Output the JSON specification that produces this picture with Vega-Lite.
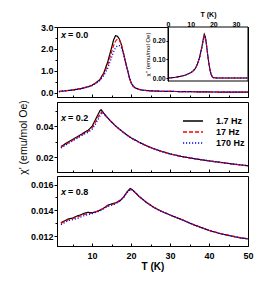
{
 "$schema": "https://vega.github.io/schema/vega-lite/v6.json",
 "background": "white",
 "padding": {"left": 17, "top": 10, "right": 5, "bottom": 5},
 "spacing": 0,
 "config": {
  "font": "Liberation Sans",
  "view": {"stroke": "black", "strokeWidth": 1},
  "axis": {"grid": false, "domainColor": "black", "tickColor": "black", "labelColor": "black", "titleColor": "black", "labelFont": "Liberation Sans", "labelFontWeight": "bold", "labelFontSize": 9, "titleFont": "Liberation Sans", "domainWidth": 1, "tickWidth": 1, "labelOverlap": false, "labelBound": false, "labelFlush": false, "labelSeparation": -50}
 },
 "datasets": {
  "x00": [
   {"T":1.5,"chi":0.05,"f":"1.7 Hz"},{"T":3,"chi":0.08,"f":"1.7 Hz"},{"T":5,"chi":0.12,"f":"1.7 Hz"},{"T":7,"chi":0.18,"f":"1.7 Hz"},{"T":9,"chi":0.27,"f":"1.7 Hz"},{"T":10,"chi":0.34,"f":"1.7 Hz"},{"T":11,"chi":0.45,"f":"1.7 Hz"},{"T":12,"chi":0.6,"f":"1.7 Hz"},{"T":13,"chi":0.9,"f":"1.7 Hz"},{"T":14,"chi":1.4,"f":"1.7 Hz"},{"T":15,"chi":2.05,"f":"1.7 Hz"},{"T":15.5,"chi":2.4,"f":"1.7 Hz"},{"T":16,"chi":2.6,"f":"1.7 Hz"},{"T":16.5,"chi":2.58,"f":"1.7 Hz"},{"T":17,"chi":2.45,"f":"1.7 Hz"},{"T":17.5,"chi":2.2,"f":"1.7 Hz"},{"T":18,"chi":1.85,"f":"1.7 Hz"},{"T":18.5,"chi":1.45,"f":"1.7 Hz"},{"T":19,"chi":1.1,"f":"1.7 Hz"},{"T":19.5,"chi":0.72,"f":"1.7 Hz"},{"T":20,"chi":0.45,"f":"1.7 Hz"},{"T":20.5,"chi":0.3,"f":"1.7 Hz"},{"T":21,"chi":0.22,"f":"1.7 Hz"},{"T":22,"chi":0.15,"f":"1.7 Hz"},{"T":23,"chi":0.11,"f":"1.7 Hz"},{"T":25,"chi":0.08,"f":"1.7 Hz"},{"T":28,"chi":0.06,"f":"1.7 Hz"},{"T":32,"chi":0.05,"f":"1.7 Hz"},{"T":36,"chi":0.04,"f":"1.7 Hz"},{"T":40,"chi":0.03,"f":"1.7 Hz"},{"T":45,"chi":0.025,"f":"1.7 Hz"},{"T":50,"chi":0.02,"f":"1.7 Hz"},
   {"T":1.5,"chi":0.05,"f":"17 Hz"},{"T":3,"chi":0.08,"f":"17 Hz"},{"T":5,"chi":0.12,"f":"17 Hz"},{"T":7,"chi":0.18,"f":"17 Hz"},{"T":9,"chi":0.27,"f":"17 Hz"},{"T":10,"chi":0.33,"f":"17 Hz"},{"T":11,"chi":0.44,"f":"17 Hz"},{"T":12,"chi":0.58,"f":"17 Hz"},{"T":13,"chi":0.85,"f":"17 Hz"},{"T":14,"chi":1.25,"f":"17 Hz"},{"T":15,"chi":1.85,"f":"17 Hz"},{"T":15.5,"chi":2.15,"f":"17 Hz"},{"T":16,"chi":2.35,"f":"17 Hz"},{"T":16.5,"chi":2.45,"f":"17 Hz"},{"T":17,"chi":2.4,"f":"17 Hz"},{"T":17.5,"chi":2.2,"f":"17 Hz"},{"T":18,"chi":1.85,"f":"17 Hz"},{"T":18.5,"chi":1.45,"f":"17 Hz"},{"T":19,"chi":1.1,"f":"17 Hz"},{"T":19.5,"chi":0.72,"f":"17 Hz"},{"T":20,"chi":0.45,"f":"17 Hz"},{"T":20.5,"chi":0.3,"f":"17 Hz"},{"T":21,"chi":0.22,"f":"17 Hz"},{"T":22,"chi":0.15,"f":"17 Hz"},{"T":23,"chi":0.11,"f":"17 Hz"},{"T":25,"chi":0.08,"f":"17 Hz"},{"T":28,"chi":0.06,"f":"17 Hz"},{"T":32,"chi":0.05,"f":"17 Hz"},{"T":36,"chi":0.04,"f":"17 Hz"},{"T":40,"chi":0.03,"f":"17 Hz"},{"T":45,"chi":0.025,"f":"17 Hz"},{"T":50,"chi":0.02,"f":"17 Hz"},
   {"T":1.5,"chi":0.05,"f":"170  Hz"},{"T":3,"chi":0.08,"f":"170  Hz"},{"T":5,"chi":0.11,"f":"170  Hz"},{"T":7,"chi":0.17,"f":"170  Hz"},{"T":9,"chi":0.26,"f":"170  Hz"},{"T":10,"chi":0.32,"f":"170  Hz"},{"T":11,"chi":0.42,"f":"170  Hz"},{"T":12,"chi":0.55,"f":"170  Hz"},{"T":13,"chi":0.78,"f":"170  Hz"},{"T":14,"chi":1.1,"f":"170  Hz"},{"T":15,"chi":1.6,"f":"170  Hz"},{"T":15.5,"chi":1.85,"f":"170  Hz"},{"T":16,"chi":2.05,"f":"170  Hz"},{"T":16.5,"chi":2.15,"f":"170  Hz"},{"T":17,"chi":2.15,"f":"170  Hz"},{"T":17.5,"chi":2.05,"f":"170  Hz"},{"T":18,"chi":1.8,"f":"170  Hz"},{"T":18.5,"chi":1.45,"f":"170  Hz"},{"T":19,"chi":1.1,"f":"170  Hz"},{"T":19.5,"chi":0.75,"f":"170  Hz"},{"T":20,"chi":0.48,"f":"170  Hz"},{"T":20.5,"chi":0.32,"f":"170  Hz"},{"T":21,"chi":0.23,"f":"170  Hz"},{"T":22,"chi":0.15,"f":"170  Hz"},{"T":23,"chi":0.11,"f":"170  Hz"},{"T":25,"chi":0.08,"f":"170  Hz"},{"T":28,"chi":0.06,"f":"170  Hz"},{"T":32,"chi":0.05,"f":"170  Hz"},{"T":36,"chi":0.04,"f":"170  Hz"},{"T":40,"chi":0.03,"f":"170  Hz"},{"T":45,"chi":0.025,"f":"170  Hz"},{"T":50,"chi":0.02,"f":"170  Hz"}
  ],
  "x02": [
   {"T":2,"chi":0.027,"f":"1.7 Hz"},{"T":3,"chi":0.0285,"f":"1.7 Hz"},{"T":4,"chi":0.03,"f":"1.7 Hz"},{"T":5,"chi":0.0315,"f":"1.7 Hz"},{"T":6,"chi":0.033,"f":"1.7 Hz"},{"T":7,"chi":0.0345,"f":"1.7 Hz"},{"T":8,"chi":0.036,"f":"1.7 Hz"},{"T":9,"chi":0.0375,"f":"1.7 Hz"},{"T":10,"chi":0.04,"f":"1.7 Hz"},{"T":10.5,"chi":0.0425,"f":"1.7 Hz"},{"T":11,"chi":0.045,"f":"1.7 Hz"},{"T":11.5,"chi":0.0475,"f":"1.7 Hz"},{"T":12,"chi":0.05,"f":"1.7 Hz"},{"T":12.3,"chi":0.0508,"f":"1.7 Hz"},{"T":13,"chi":0.0485,"f":"1.7 Hz"},{"T":14,"chi":0.0455,"f":"1.7 Hz"},{"T":15,"chi":0.0428,"f":"1.7 Hz"},{"T":16,"chi":0.0403,"f":"1.7 Hz"},{"T":17,"chi":0.0382,"f":"1.7 Hz"},{"T":18,"chi":0.0362,"f":"1.7 Hz"},{"T":19,"chi":0.0343,"f":"1.7 Hz"},{"T":20,"chi":0.0326,"f":"1.7 Hz"},{"T":22,"chi":0.0298,"f":"1.7 Hz"},{"T":24,"chi":0.0274,"f":"1.7 Hz"},{"T":26,"chi":0.0254,"f":"1.7 Hz"},{"T":28,"chi":0.0237,"f":"1.7 Hz"},{"T":30,"chi":0.0222,"f":"1.7 Hz"},{"T":33,"chi":0.0205,"f":"1.7 Hz"},{"T":36,"chi":0.0192,"f":"1.7 Hz"},{"T":40,"chi":0.0177,"f":"1.7 Hz"},{"T":43,"chi":0.0167,"f":"1.7 Hz"},{"T":46,"chi":0.0157,"f":"1.7 Hz"},{"T":50,"chi":0.0145,"f":"1.7 Hz"},
   {"T":2,"chi":0.0265,"f":"17 Hz"},{"T":4,"chi":0.0295,"f":"17 Hz"},{"T":6,"chi":0.0325,"f":"17 Hz"},{"T":8,"chi":0.0355,"f":"17 Hz"},{"T":9,"chi":0.0368,"f":"17 Hz"},{"T":10,"chi":0.039,"f":"17 Hz"},{"T":11,"chi":0.0435,"f":"17 Hz"},{"T":12,"chi":0.048,"f":"17 Hz"},{"T":12.5,"chi":0.0495,"f":"17 Hz"},{"T":13,"chi":0.048,"f":"17 Hz"},{"T":14,"chi":0.0453,"f":"17 Hz"},{"T":15,"chi":0.0427,"f":"17 Hz"},{"T":16,"chi":0.0402,"f":"17 Hz"},{"T":17,"chi":0.0381,"f":"17 Hz"},{"T":18,"chi":0.0361,"f":"17 Hz"},{"T":19,"chi":0.0342,"f":"17 Hz"},{"T":20,"chi":0.0325,"f":"17 Hz"},{"T":22,"chi":0.0297,"f":"17 Hz"},{"T":24,"chi":0.0273,"f":"17 Hz"},{"T":26,"chi":0.0253,"f":"17 Hz"},{"T":28,"chi":0.0236,"f":"17 Hz"},{"T":30,"chi":0.0221,"f":"17 Hz"},{"T":33,"chi":0.0204,"f":"17 Hz"},{"T":36,"chi":0.0191,"f":"17 Hz"},{"T":40,"chi":0.0176,"f":"17 Hz"},{"T":43,"chi":0.0166,"f":"17 Hz"},{"T":46,"chi":0.0156,"f":"17 Hz"},{"T":50,"chi":0.0145,"f":"17 Hz"},
   {"T":2,"chi":0.026,"f":"170  Hz"},{"T":4,"chi":0.029,"f":"170  Hz"},{"T":6,"chi":0.032,"f":"170  Hz"},{"T":8,"chi":0.035,"f":"170  Hz"},{"T":9,"chi":0.0362,"f":"170  Hz"},{"T":10,"chi":0.038,"f":"170  Hz"},{"T":11,"chi":0.042,"f":"170  Hz"},{"T":12,"chi":0.0465,"f":"170  Hz"},{"T":12.5,"chi":0.049,"f":"170  Hz"},{"T":13,"chi":0.0482,"f":"170  Hz"},{"T":14,"chi":0.0454,"f":"170  Hz"},{"T":15,"chi":0.0428,"f":"170  Hz"},{"T":16,"chi":0.0403,"f":"170  Hz"},{"T":17,"chi":0.0382,"f":"170  Hz"},{"T":18,"chi":0.0362,"f":"170  Hz"},{"T":19,"chi":0.0343,"f":"170  Hz"},{"T":20,"chi":0.0326,"f":"170  Hz"},{"T":22,"chi":0.0298,"f":"170  Hz"},{"T":24,"chi":0.0274,"f":"170  Hz"},{"T":26,"chi":0.0254,"f":"170  Hz"},{"T":28,"chi":0.0237,"f":"170  Hz"},{"T":30,"chi":0.0222,"f":"170  Hz"},{"T":33,"chi":0.0205,"f":"170  Hz"},{"T":36,"chi":0.0192,"f":"170  Hz"},{"T":40,"chi":0.0177,"f":"170  Hz"},{"T":43,"chi":0.0167,"f":"170  Hz"},{"T":46,"chi":0.0157,"f":"170  Hz"},{"T":50,"chi":0.0146,"f":"170  Hz"}
  ],
  "x08": [
   {"T":2,"chi":0.01305,"f":"1.7 Hz"},{"T":3,"chi":0.0132,"f":"1.7 Hz"},{"T":4,"chi":0.01335,"f":"1.7 Hz"},{"T":5,"chi":0.0134,"f":"1.7 Hz"},{"T":6,"chi":0.01355,"f":"1.7 Hz"},{"T":7,"chi":0.01365,"f":"1.7 Hz"},{"T":8,"chi":0.01378,"f":"1.7 Hz"},{"T":9,"chi":0.01385,"f":"1.7 Hz"},{"T":10,"chi":0.01382,"f":"1.7 Hz"},{"T":11,"chi":0.0139,"f":"1.7 Hz"},{"T":12,"chi":0.01402,"f":"1.7 Hz"},{"T":13,"chi":0.01418,"f":"1.7 Hz"},{"T":14,"chi":0.0144,"f":"1.7 Hz"},{"T":15,"chi":0.0145,"f":"1.7 Hz"},{"T":16,"chi":0.01458,"f":"1.7 Hz"},{"T":17,"chi":0.0147,"f":"1.7 Hz"},{"T":18,"chi":0.015,"f":"1.7 Hz"},{"T":19,"chi":0.01545,"f":"1.7 Hz"},{"T":19.8,"chi":0.0157,"f":"1.7 Hz"},{"T":20.5,"chi":0.01555,"f":"1.7 Hz"},{"T":22,"chi":0.0151,"f":"1.7 Hz"},{"T":24,"chi":0.0146,"f":"1.7 Hz"},{"T":26,"chi":0.0142,"f":"1.7 Hz"},{"T":28,"chi":0.0139,"f":"1.7 Hz"},{"T":30,"chi":0.01365,"f":"1.7 Hz"},{"T":33,"chi":0.01328,"f":"1.7 Hz"},{"T":36,"chi":0.0129,"f":"1.7 Hz"},{"T":40,"chi":0.01245,"f":"1.7 Hz"},{"T":43,"chi":0.0122,"f":"1.7 Hz"},{"T":46,"chi":0.012,"f":"1.7 Hz"},{"T":48,"chi":0.01188,"f":"1.7 Hz"},{"T":50,"chi":0.0118,"f":"1.7 Hz"},
   {"T":2,"chi":0.013,"f":"17 Hz"},{"T":4,"chi":0.0133,"f":"17 Hz"},{"T":6,"chi":0.01345,"f":"17 Hz"},{"T":8,"chi":0.0137,"f":"17 Hz"},{"T":10,"chi":0.0138,"f":"17 Hz"},{"T":12,"chi":0.014,"f":"17 Hz"},{"T":14,"chi":0.01435,"f":"17 Hz"},{"T":16,"chi":0.01455,"f":"17 Hz"},{"T":18,"chi":0.015,"f":"17 Hz"},{"T":19,"chi":0.0154,"f":"17 Hz"},{"T":20,"chi":0.01565,"f":"17 Hz"},{"T":21,"chi":0.0154,"f":"17 Hz"},{"T":22,"chi":0.0151,"f":"17 Hz"},{"T":24,"chi":0.01462,"f":"17 Hz"},{"T":26,"chi":0.01422,"f":"17 Hz"},{"T":28,"chi":0.0139,"f":"17 Hz"},{"T":30,"chi":0.01365,"f":"17 Hz"},{"T":33,"chi":0.0133,"f":"17 Hz"},{"T":36,"chi":0.0129,"f":"17 Hz"},{"T":40,"chi":0.01247,"f":"17 Hz"},{"T":43,"chi":0.0122,"f":"17 Hz"},{"T":46,"chi":0.01202,"f":"17 Hz"},{"T":48,"chi":0.0119,"f":"17 Hz"},{"T":50,"chi":0.01182,"f":"17 Hz"},
   {"T":2,"chi":0.0129,"f":"170  Hz"},{"T":4,"chi":0.01322,"f":"170  Hz"},{"T":6,"chi":0.01335,"f":"170  Hz"},{"T":8,"chi":0.0136,"f":"170  Hz"},{"T":10,"chi":0.01375,"f":"170  Hz"},{"T":12,"chi":0.01395,"f":"170  Hz"},{"T":14,"chi":0.0143,"f":"170  Hz"},{"T":16,"chi":0.0145,"f":"170  Hz"},{"T":18,"chi":0.01495,"f":"170  Hz"},{"T":19,"chi":0.0154,"f":"170  Hz"},{"T":20,"chi":0.01565,"f":"170  Hz"},{"T":21,"chi":0.0154,"f":"170  Hz"},{"T":22,"chi":0.0151,"f":"170  Hz"},{"T":24,"chi":0.0146,"f":"170  Hz"},{"T":26,"chi":0.0142,"f":"170  Hz"},{"T":28,"chi":0.0139,"f":"170  Hz"},{"T":30,"chi":0.01365,"f":"170  Hz"},{"T":33,"chi":0.0133,"f":"170  Hz"},{"T":36,"chi":0.0129,"f":"170  Hz"},{"T":40,"chi":0.01246,"f":"170  Hz"},{"T":43,"chi":0.0122,"f":"170  Hz"},{"T":46,"chi":0.012,"f":"170  Hz"},{"T":48,"chi":0.01188,"f":"170  Hz"},{"T":50,"chi":0.0118,"f":"170  Hz"}
  ],
  "inset": [
   {"T":0,"chi":0.0,"f":"1.7 Hz"},{"T":3,"chi":0.003,"f":"1.7 Hz"},{"T":6,"chi":0.01,"f":"1.7 Hz"},{"T":8,"chi":0.017,"f":"1.7 Hz"},{"T":10,"chi":0.028,"f":"1.7 Hz"},{"T":11,"chi":0.037,"f":"1.7 Hz"},{"T":12,"chi":0.05,"f":"1.7 Hz"},{"T":13,"chi":0.075,"f":"1.7 Hz"},{"T":14,"chi":0.115,"f":"1.7 Hz"},{"T":15,"chi":0.17,"f":"1.7 Hz"},{"T":15.5,"chi":0.205,"f":"1.7 Hz"},{"T":16,"chi":0.235,"f":"1.7 Hz"},{"T":16.5,"chi":0.22,"f":"1.7 Hz"},{"T":17,"chi":0.175,"f":"1.7 Hz"},{"T":17.5,"chi":0.125,"f":"1.7 Hz"},{"T":18,"chi":0.08,"f":"1.7 Hz"},{"T":18.5,"chi":0.045,"f":"1.7 Hz"},{"T":19,"chi":0.02,"f":"1.7 Hz"},{"T":19.5,"chi":0.007,"f":"1.7 Hz"},{"T":20,"chi":0.002,"f":"1.7 Hz"},{"T":22,"chi":0.0,"f":"1.7 Hz"},{"T":26,"chi":0.0,"f":"1.7 Hz"},{"T":30,"chi":0.0,"f":"1.7 Hz"},{"T":35,"chi":0.0,"f":"1.7 Hz"},
   {"T":0,"chi":0.0,"f":"17 Hz"},{"T":3,"chi":0.003,"f":"17 Hz"},{"T":6,"chi":0.01,"f":"17 Hz"},{"T":8,"chi":0.017,"f":"17 Hz"},{"T":10,"chi":0.028,"f":"17 Hz"},{"T":11,"chi":0.037,"f":"17 Hz"},{"T":12,"chi":0.05,"f":"17 Hz"},{"T":13,"chi":0.074,"f":"17 Hz"},{"T":14,"chi":0.112,"f":"17 Hz"},{"T":15,"chi":0.165,"f":"17 Hz"},{"T":15.5,"chi":0.198,"f":"17 Hz"},{"T":16,"chi":0.225,"f":"17 Hz"},{"T":16.5,"chi":0.215,"f":"17 Hz"},{"T":17,"chi":0.175,"f":"17 Hz"},{"T":17.5,"chi":0.125,"f":"17 Hz"},{"T":18,"chi":0.08,"f":"17 Hz"},{"T":18.5,"chi":0.045,"f":"17 Hz"},{"T":19,"chi":0.02,"f":"17 Hz"},{"T":19.5,"chi":0.007,"f":"17 Hz"},{"T":20,"chi":0.002,"f":"17 Hz"},{"T":22,"chi":0.0,"f":"17 Hz"},{"T":26,"chi":0.0,"f":"17 Hz"},{"T":30,"chi":0.0,"f":"17 Hz"},{"T":35,"chi":0.0,"f":"17 Hz"},
   {"T":0,"chi":0.0,"f":"170  Hz"},{"T":3,"chi":0.003,"f":"170  Hz"},{"T":6,"chi":0.01,"f":"170  Hz"},{"T":8,"chi":0.017,"f":"170  Hz"},{"T":10,"chi":0.028,"f":"170  Hz"},{"T":11,"chi":0.037,"f":"170  Hz"},{"T":12,"chi":0.05,"f":"170  Hz"},{"T":13,"chi":0.074,"f":"170  Hz"},{"T":14,"chi":0.11,"f":"170  Hz"},{"T":15,"chi":0.162,"f":"170  Hz"},{"T":15.5,"chi":0.195,"f":"170  Hz"},{"T":16,"chi":0.22,"f":"170  Hz"},{"T":16.5,"chi":0.215,"f":"170  Hz"},{"T":17,"chi":0.178,"f":"170  Hz"},{"T":17.5,"chi":0.128,"f":"170  Hz"},{"T":18,"chi":0.082,"f":"170  Hz"},{"T":18.5,"chi":0.046,"f":"170  Hz"},{"T":19,"chi":0.021,"f":"170  Hz"},{"T":19.5,"chi":0.008,"f":"170  Hz"},{"T":20,"chi":0.002,"f":"170  Hz"},{"T":22,"chi":0.0,"f":"170  Hz"},{"T":26,"chi":0.0,"f":"170  Hz"},{"T":30,"chi":0.0,"f":"170  Hz"},{"T":35,"chi":0.0,"f":"170  Hz"}
  ]
 },
 "resolve": {"scale": {"x": "independent", "y": "independent", "color": "independent", "strokeDash": "independent"}},
 "vconcat": [
  {
   "width": 191, "height": 70,
   "layer": [
    {"layer": [
     {"data": {"name": "x00"}, "mark": {"type": "line", "strokeWidth": 1.2},
      "encoding": {
       "x": {"field": "T", "type": "quantitative", "scale": {"domain": [1, 50], "nice": false}, "axis": {"orient": "bottom", "values": [10,20,30,40,50], "labels": false, "title": null, "tickSize": -3}},
       "y": {"field": "chi", "type": "quantitative", "scale": {"domain": [-0.2, 3.0], "nice": false, "zero": false}, "axis": {"orient": "left", "values": [0,3], "format": ".1f", "title": null, "labelOverlap": false, "labelPadding": 1, "tickSize": 3}},
       "color": {"field": "f", "type": "nominal", "scale": {"domain": ["1.7 Hz", "17 Hz", "170  Hz"], "range": ["#000000", "#ff0000", "#0000ff"]}, "legend": null},
       "strokeDash": {"field": "f", "type": "nominal", "scale": {"domain": ["1.7 Hz", "17 Hz", "170  Hz"], "range": [[1, 0], [4, 2], [1.2, 1.8]]}, "legend": null}
      }},
     {"data": {"values": [{"a": 1}]}, "mark": {"type": "text", "text": "x", "fontStyle": "italic", "fontWeight": "bold", "fontSize": 9, "align": "left", "baseline": "middle"},
      "encoding": {"x": {"datum": 2, "type": "quantitative"}, "y": {"datum": 2.64, "type": "quantitative"}}},
     {"data": {"values": [{"a": 1}]}, "mark": {"type": "text", "text": "= 0.0", "fontWeight": "bold", "fontSize": 9, "align": "left", "baseline": "middle", "dx": 7},
      "encoding": {"x": {"datum": 2, "type": "quantitative"}, "y": {"datum": 2.64, "type": "quantitative"}}}
    ]},
    {"data": {"name": "x00"}, "mark": {"type": "line", "opacity": 0},
     "encoding": {
      "x": {"field": "T", "type": "quantitative", "scale": {"domain": [1, 50], "nice": false}, "axis": {"orient": "bottom", "values": [5,15,25,35,45], "labels": false, "domain": false, "title": null, "tickSize": -2}},
      "y": {"field": "chi", "type": "quantitative", "scale": {"domain": [-0.2, 3.0], "nice": false, "zero": false}, "axis": {"orient": "left", "values": [0.5,1.5,2.5], "labels": false, "domain": false, "title": null, "tickSize": 2}}
     }},
    {"data": {"name": "x00"}, "mark": {"type": "line", "opacity": 0},
     "encoding": {
      "x": {"field": "T", "type": "quantitative", "scale": {"domain": [1, 50], "nice": false}, "axis": null},
      "y": {"field": "chi", "type": "quantitative", "scale": {"domain": [-0.2, 3.0], "nice": false, "zero": false}, "axis": {"orient": "left", "values": [1,2], "format": ".1f", "domain": false, "title": null, "labelOverlap": false, "labelPadding": 1, "tickSize": 3}}
     }},
    {"layer": [
     {"data": {"values": [{"a": 1}]}, "mark": {"type": "rect", "fill": "white", "stroke": "black", "strokeWidth": 1},
      "encoding": {
       "x": {"datum": 0, "type": "quantitative", "scale": {"domain": [0, 35.3], "range": [111, 191], "nice": false}, "axis": {"orient": "top", "values": [0,10,20,30], "labelOverlap": false, "labelFontSize": 7, "title": "T (K)", "titleFontSize": 7, "titleFontWeight": "bold", "titlePadding": 3, "labelPadding": 1.5, "tickSize": -2}},
       "x2": {"datum": 35.3},
       "y": {"datum": -0.016, "type": "quantitative", "scale": {"domain": [-0.016, 0.273], "range": [54, 0], "nice": false, "zero": false}, "axis": {"orient": "left", "offset": -111, "values": [0, 0.2], "format": ".2f", "labelOverlap": false, "labelFontSize": 6.5, "title": "χ'' (emu/mol Oe)", "titleFontSize": 6, "titleFontWeight": "normal", "titlePadding": 2, "labelPadding": 1, "tickSize": 2, "zindex": 1}},
       "y2": {"datum": 0.273}
      }},
     {"data": {"name": "inset"}, "mark": {"type": "line", "strokeWidth": 1.1},
      "encoding": {
       "x": {"field": "T", "type": "quantitative"},
       "y": {"field": "chi", "type": "quantitative"},
       "color": {"field": "f", "type": "nominal", "legend": null},
       "strokeDash": {"field": "f", "type": "nominal", "legend": null}
      }}
    ]},
    {"data": {"name": "inset"}, "mark": {"type": "line", "opacity": 0},
     "encoding": {
      "x": {"field": "T", "type": "quantitative", "scale": {"domain": [0, 35.3], "range": [111, 191], "nice": false}, "axis": null},
      "y": {"field": "chi", "type": "quantitative", "scale": {"domain": [-0.016, 0.273], "range": [54, 0], "nice": false, "zero": false}, "axis": {"orient": "left", "offset": -111, "values": [0.1], "format": ".2f", "labelOverlap": false, "labelFontSize": 6.5, "domain": false, "title": null, "labelPadding": 1, "tickSize": 2, "zindex": 1}}
     }}
   ],
   "resolve": {"scale": {"x": "independent", "y": "independent"}}
  },
  {
   "width": 191, "height": 70,
   "layer": [
    {"layer": [
     {"data": {"name": "x02"}, "mark": {"type": "line", "strokeWidth": 1.2},
      "encoding": {
       "x": {"field": "T", "type": "quantitative", "scale": {"domain": [1, 50], "nice": false}, "axis": {"orient": "bottom", "values": [10,20,30,40,50], "labels": false, "title": null, "tickSize": -3}},
       "y": {"field": "chi", "type": "quantitative", "scale": {"domain": [0.0105, 0.0557], "nice": false, "zero": false}, "axis": {"orient": "left", "values": [0.02,0.04], "format": ".2f", "labelOverlap": false, "title": "χ' (emu/mol Oe)", "titleFontSize": 10.5, "titleFontWeight": "normal", "titleX": -29, "labelPadding": 1, "tickSize": 3}},
       "color": {"field": "f", "type": "nominal", "scale": {"domain": ["1.7 Hz", "17 Hz", "170  Hz"], "range": ["#000000", "#ff0000", "#0000ff"]},
        "legend": {"orient": "none", "legendX": 130, "legendY": 13, "title": null, "symbolType": "M-2,0H2", "symbolSize": 100, "symbolStrokeWidth": 1.5, "labelFontSize": 9, "labelFontWeight": "bold", "labelFont": "Liberation Sans", "labelColor": "black", "rowPadding": -4, "labelOffset": 17}},
       "strokeDash": {"field": "f", "type": "nominal", "scale": {"domain": ["1.7 Hz", "17 Hz", "170  Hz"], "range": [[1, 0], [4, 2], [1.2, 1.8]]},
        "legend": {"orient": "none", "legendX": 130, "legendY": 13, "title": null, "symbolType": "M-2,0H2", "symbolSize": 100, "symbolStrokeWidth": 1.5, "labelFontSize": 9, "labelFontWeight": "bold", "labelFont": "Liberation Sans", "labelColor": "black", "rowPadding": -4, "labelOffset": 17}}
      }},
     {"data": {"values": [{"a": 1}]}, "mark": {"type": "text", "text": "x", "fontStyle": "italic", "fontWeight": "bold", "fontSize": 9, "align": "left", "baseline": "middle"},
      "encoding": {"x": {"datum": 2, "type": "quantitative"}, "y": {"datum": 0.0452, "type": "quantitative"}}},
     {"data": {"values": [{"a": 1}]}, "mark": {"type": "text", "text": "= 0.2", "fontWeight": "bold", "fontSize": 9, "align": "left", "baseline": "middle", "dx": 7},
      "encoding": {"x": {"datum": 2, "type": "quantitative"}, "y": {"datum": 0.0452, "type": "quantitative"}}}
    ]},
    {"data": {"name": "x02"}, "mark": {"type": "line", "opacity": 0},
     "encoding": {
      "x": {"field": "T", "type": "quantitative", "scale": {"domain": [1, 50], "nice": false}, "axis": {"orient": "bottom", "values": [5,15,25,35,45], "labels": false, "domain": false, "title": null, "tickSize": -2}},
      "y": {"field": "chi", "type": "quantitative", "scale": {"domain": [0.0105, 0.0557], "nice": false, "zero": false}, "axis": {"orient": "left", "values": [0.03,0.05], "labels": false, "domain": false, "title": null, "tickSize": 2}}
     }}
   ],
   "resolve": {"scale": {"x": "independent", "y": "independent"}}
  },
  {
   "width": 191, "height": 70,
   "layer": [
    {"layer": [
     {"data": {"name": "x08"}, "mark": {"type": "line", "strokeWidth": 1.2},
      "encoding": {
       "x": {"field": "T", "type": "quantitative", "scale": {"domain": [1, 50], "nice": false}, "axis": {"orient": "bottom", "values": [10,20,30,40,50], "format": "d", "labelOverlap": false, "title": "T (K)", "titleFontSize": 10, "titleFontWeight": "bold", "titlePadding": 1, "labelPadding": 8, "tickSize": -3}},
       "y": {"field": "chi", "type": "quantitative", "scale": {"domain": [0.01125, 0.01666], "nice": false, "zero": false}, "axis": {"orient": "left", "values": [0.012,0.016], "format": ".3f", "labelOverlap": false, "title": null, "labelPadding": 1, "tickSize": 3}},
       "color": {"field": "f", "type": "nominal", "scale": {"domain": ["1.7 Hz", "17 Hz", "170  Hz"], "range": ["#000000", "#ff0000", "#0000ff"]}, "legend": null},
       "strokeDash": {"field": "f", "type": "nominal", "scale": {"domain": ["1.7 Hz", "17 Hz", "170  Hz"], "range": [[1, 0], [4, 2], [1.2, 1.8]]}, "legend": null}
      }},
     {"data": {"values": [{"a": 1}]}, "mark": {"type": "text", "text": "x", "fontStyle": "italic", "fontWeight": "bold", "fontSize": 9, "align": "left", "baseline": "middle"},
      "encoding": {"x": {"datum": 2, "type": "quantitative"}, "y": {"datum": 0.01546, "type": "quantitative"}}},
     {"data": {"values": [{"a": 1}]}, "mark": {"type": "text", "text": "= 0.8", "fontWeight": "bold", "fontSize": 9, "align": "left", "baseline": "middle", "dx": 7},
      "encoding": {"x": {"datum": 2, "type": "quantitative"}, "y": {"datum": 0.01546, "type": "quantitative"}}}
    ]},
    {"data": {"name": "x08"}, "mark": {"type": "line", "opacity": 0},
     "encoding": {
      "x": {"field": "T", "type": "quantitative", "scale": {"domain": [1, 50], "nice": false}, "axis": {"orient": "bottom", "values": [5,15,25,35,45], "labels": false, "domain": false, "title": null, "tickSize": -2}},
      "y": {"field": "chi", "type": "quantitative", "scale": {"domain": [0.01125, 0.01666], "nice": false, "zero": false}, "axis": {"orient": "left", "values": [0.013,0.015], "labels": false, "domain": false, "title": null, "tickSize": 2}}
     }},
    {"data": {"name": "x08"}, "mark": {"type": "line", "opacity": 0},
     "encoding": {
      "x": {"field": "T", "type": "quantitative", "scale": {"domain": [1, 50], "nice": false}, "axis": null},
      "y": {"field": "chi", "type": "quantitative", "scale": {"domain": [0.01125, 0.01666], "nice": false, "zero": false}, "axis": {"orient": "left", "values": [0.014], "format": ".3f", "domain": false, "labelOverlap": false, "title": null, "labelPadding": 1, "tickSize": 3}}
     }}
   ],
   "resolve": {"scale": {"x": "independent", "y": "independent"}}
  }
 ]
}
